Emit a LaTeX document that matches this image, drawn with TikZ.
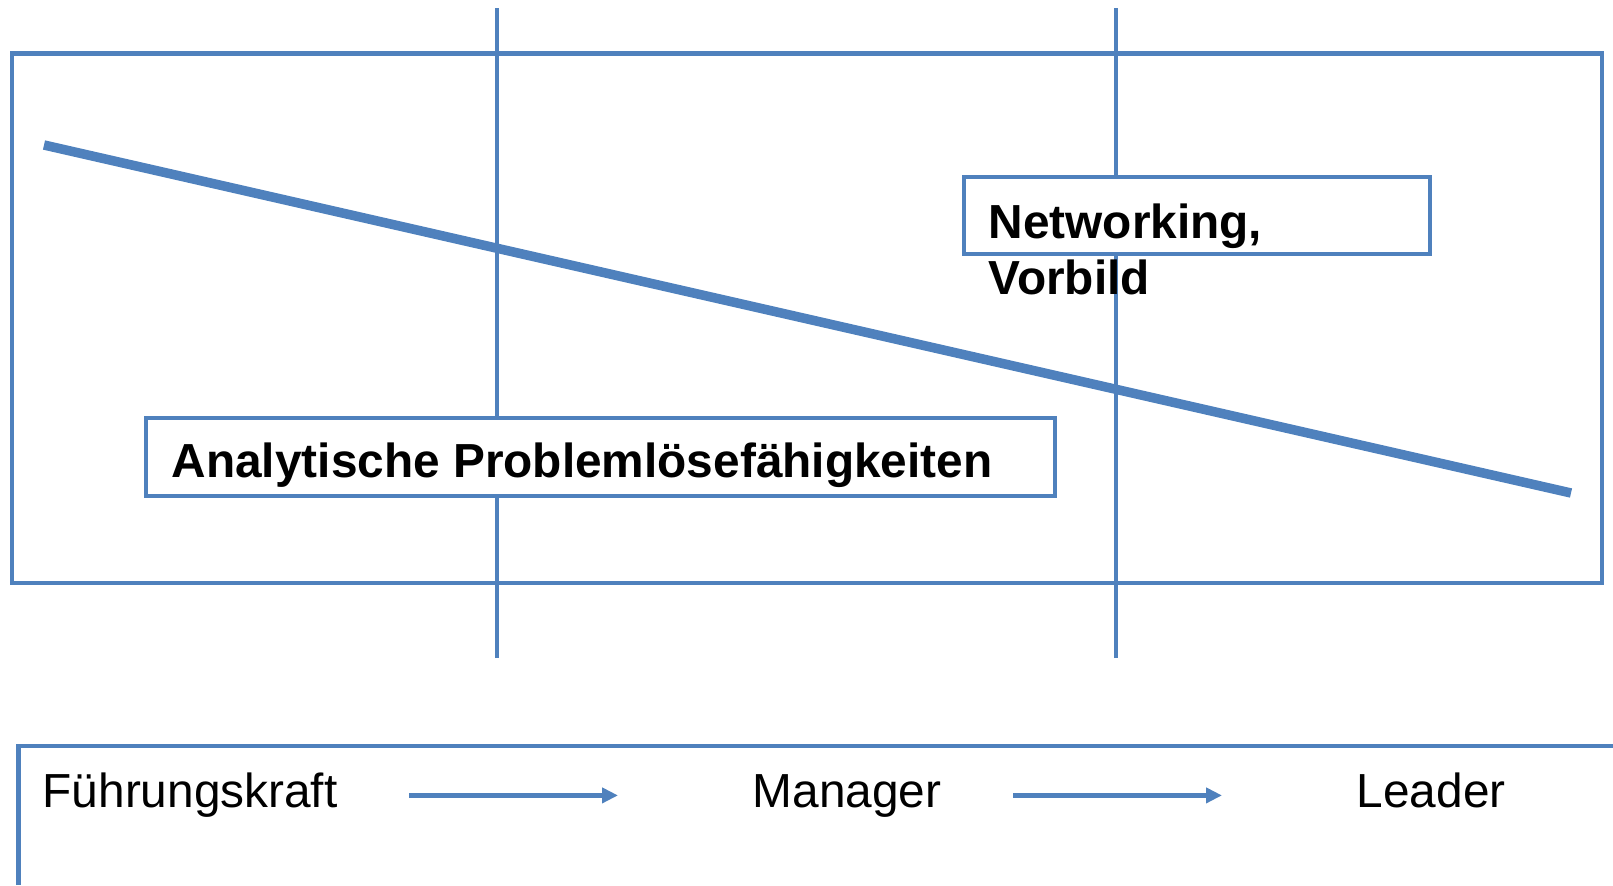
\documentclass[tikz,border=0pt]{standalone}
\usepackage{fontspec}
\setmainfont{Liberation Sans}
\usetikzlibrary{arrows.meta}
\definecolor{ablau}{HTML}{4F81BD}
\tikzset{
	linie/.style={draw=ablau, line width=0.45mm},
	kasten/.style={linie, fill=white, rectangle, inner sep=0pt},
	schrift/.style={inner sep=0pt, anchor=base west, font=\fontsize{13.6}{15.9}\selectfont},
	fett/.style={schrift, font=\fontsize{13.6}{15.9}\selectfont\bfseries},
	stufe/.style={schrift, text height=0.88em, text depth=0.22em},
	pfeil/.style={draw=ablau, line width=0.5mm, -{Triangle[length=1.6mm,width=1.5mm]}, shorten <=7.1mm, shorten >=13.4mm}
}

\begin{document}
\begin{tikzpicture}
			%%%%% START %%%%%
			\useasboundingbox (0, 0) rectangle (16.13, 8.85);
			
			\draw[linie] (0.12, 3.02) rectangle (16.02, 8.315);
			\draw[linie] (4.97, 2.27) -- (4.97, 8.77);
			\draw[linie] (11.16, 2.27) -- (11.16, 8.77);
			\draw[ablau, line width=0.95mm] (0.44, 7.40) -- (15.71, 3.92);
			
			\node[kasten, minimum width=4.66cm, minimum height=0.77cm] (netzbox) at (11.97, 6.695) {};
			\node[fett, align=left] (netz) at (9.88, 5.91) {Networking,\\Vorbild};
			
			\node[kasten, minimum width=9.09cm, minimum height=0.78cm] (analysebox) at (6.005, 4.28) {};
			\node[fett] (analyse) at (1.71, 4.08) {Analytische Problemlösefähigkeiten};
			
			%%%%% UNTEN %%%%%
			\draw[linie] (0.185, 0) -- (0.185, 1.39) -- (16.13, 1.39);
			
			\node[stufe] (fk) at (0.42, 0.78) {Führungskraft};
			\node[stufe] (mg) at (7.52, 0.78) {Manager};
			\node[stufe] (ld) at (13.56, 0.78) {Leader};
			
			\draw[pfeil] (fk.east) -- (mg.west);
			\draw[pfeil] (mg.east) -- (ld.west);
			%%%%% END %%%%%
		\end{tikzpicture}
\end{document}
